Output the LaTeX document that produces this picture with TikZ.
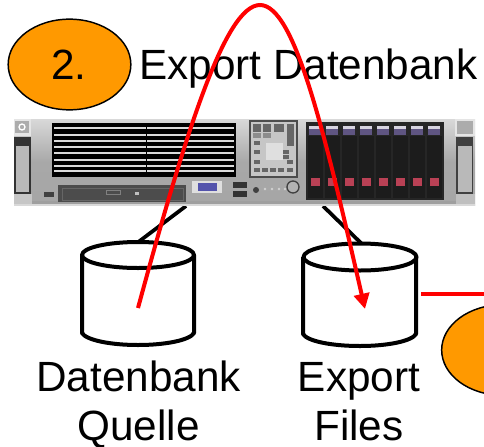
\documentclass[tikz,border=0pt]{standalone}
\usepackage{fontspec}
\setmainfont{Liberation Sans}
\usetikzlibrary{arrows.meta,shapes.geometric}
\definecolor{orangeA}{RGB}{255,153,0}
\definecolor{redA}{RGB}{255,0,0}
\definecolor{metal}{RGB}{168,168,168}
\definecolor{darkbay}{RGB}{28,28,28}
\definecolor{lav}{RGB}{95,85,130}
\definecolor{bayred}{RGB}{185,65,85}
\tikzset{
  badge/.style={ellipse,draw=black,line width=1.1pt,fill=orangeA,minimum width=92pt,minimum height=68pt,inner sep=0pt},
  label/.style={font=\fontsize{31.7pt}{36pt}\selectfont,anchor=base,inner sep=0pt,text=black},
  cyl/.style={draw=black,line width=3pt,fill=white,line join=round},
  link/.style={draw=black,line width=2.8pt},
  flow/.style={draw=redA,line width=3pt},
  slat/.style={draw=white!72!gray,line width=1.3pt},
}
\begin{document}
\begin{tikzpicture}[x=.75pt,y=-.75pt]
\useasboundingbox (0,0) rectangle (484,446);
\fill[white] (0,0) rectangle (484,446);
% named ends for connectors
\coordinate (srvA) at (186,206);
\coordinate (srvB) at (323,206);
\coordinate (dbA) at (137,243);
\coordinate (dbB) at (362,244);
\coordinate (flowS) at (138,308);
\coordinate (flowT) at (365,309);
\coordinate (lineS) at (421,294);
\coordinate (lineT) at (484,294);
% connectors behind the server
\draw[link] (srvA) -- (dbA);
\draw[link] (srvB) -- (dbB);
% server
\shade[top color=gray!30,bottom color=gray!70,middle color=metal] (14,119) rectangle (475,205);
\fill[gray!75] (14,201) rectangle (475,204);
\fill[gray!30] (14,204) rectangle (475,206);
\fill[black] (52,123) rectangle (236,177);
\foreach \y in {128,135,141,147,153,160,166,171} \draw[slat] (54,\y) -- (234,\y);
\fill[black] (145.5,123) rectangle (147,177);
% left ear
\fill[gray!20] (14,119) rectangle (31,136);
\fill[gray!65] (15,121) rectangle (29,133);
\draw[white,line width=1pt] (22,127) circle (3);
\fill[black!80] (14,137) rectangle (31,194);
\fill[gray!55] (16,146) rectangle (29,192);
\fill[gray!45] (14,194) rectangle (32,204);
% right ear
\fill[gray!20] (455,119) rectangle (475,136);
\fill[gray!65] (457,121) rectangle (473,134);
\fill[black!75] (456,137) rectangle (473,194);
\fill[gray!55] (458,146) rectangle (472,192);
\fill[gray!50] (456,194) rectangle (475,204);
% optical drive
\fill[black!70] (58,185) rectangle (186,202);
\draw[gray!80!black,line width=.5pt] (62,188) rectangle (183,200);
\draw[gray,line width=.6pt] (106,190) rectangle (120,194);
\fill[gray!50] (135,192) rectangle (139,195);
\fill[black!75] (44,192) rectangle (54,197);
% control panel
\fill[gray!45] (250,121) rectangle (297,177);
\draw[black!70,line width=.9pt] (250,121) rectangle (297,177);
\foreach \x in {253,263} \fill[black!60] (\x,124) rectangle +(8,8);
\foreach \x in {253,263} \fill[black!45] (\x,133) rectangle +(8,5);
\fill[black!60] (274,124) rectangle (284,132);
\fill[black!60] (287,124) rectangle (294,146);
\fill[gray!25] (266,143) rectangle (283,160);
\foreach \x/\y in {254/141,254/150,254/160,283/150,283/155,254/168,262/168,270/168,278/168,287/160,287/168}
  \fill[black!60] (\x,\y) rectangle +(6,4);
% VGA, USB, buttons
\fill[gray!25] (192,181) rectangle (222,193);
\fill[blue!35!gray] (198,183) rectangle (217,191);
\fill[black!80] (233,182) rectangle (247,188);
\fill[black!80] (233,191) rectangle (247,197);
\fill[black!75] (256,190) circle (3);
\foreach \x in {265,272,279,285} \fill[gray!35] (\x,189) circle (1.3);
\draw[black!75,line width=1pt,fill=gray!60] (293,187) circle (6);
% drive bays
\fill[black!85] (306,122) rectangle (444,200);
\foreach \x in {315,332,349,366,383,400,417,434}{
  \fill[darkbay] (\x-7.5,136) rectangle (\x+7.5,198);
  \fill[white!75!lav] (\x-6,126) rectangle (\x+6,129);
  \fill[lav] (\x-6,129) rectangle (\x+6,135);
  \fill[bayred] (\x-4.5,178) rectangle (\x+4.5,186);
}
% cylinders
\draw[cyl] (82,255) -- (82,333) .. controls (86,340) and (110,345) .. (138,345) .. controls (166,345) and (190,340) .. (194,333) -- (194,255);
\draw[cyl] (138,255) ellipse (56 and 13);
\draw[cyl] (303,257) -- (303,334) .. controls (307,341) and (331,346) .. (360,346) .. controls (388,346) and (412,341) .. (416,334) -- (416,257);
\draw[cyl] (360,257) ellipse (56.5 and 13.5);
% badges
\node[badge] (one) at (69.5,64.5) {};
\node[label] (oneT) at (69,79) {2.};
\node[badge] (two) at (503,350) {};
% texts
\node[label,anchor=base west] (title) at (139,79) {Export Datenbank};
\node[label] (a1) at (138.5,391) {Datenbank};
\node[label] (a2) at (138.5,440) {Quelle};
\node[label] (b1) at (359,391) {Export};
\node[label] (b2) at (359,440) {Files};
% red flow
\draw[flow,-{Triangle[length=11.5pt,width=11.5pt]}] (flowS) .. controls (185,135) and (225,5) .. (260,5) .. controls (295,5) and (325,135) .. (flowT);
\draw[flow] (lineS) -- (lineT);
\end{tikzpicture}
\end{document}
